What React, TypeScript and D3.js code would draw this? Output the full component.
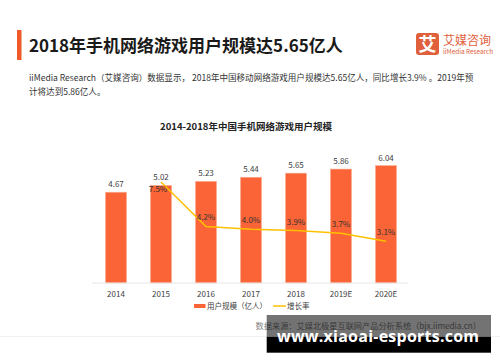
import React from "react";
import * as d3 from "d3";

const years = ["2014", "2015", "2016", "2017", "2018", "2019E", "2020E"];
const users = [4.67, 5.02, 5.23, 5.44, 5.65, 5.86, 6.04];
const growth: (number | null)[] = [null, 7.5, 4.2, 4.0, 3.9, 3.7, 3.1];
const seriesNames = ["用户规模（亿人）", "增长率"];

const W = 500;
const H = 362;
const FONT = "'Noto Sans CJK SC', 'Open Sans', sans-serif";
const BAR = "#fa6436";
const LINE = "#ffc000";
const LOGO = "#e0603c";

const App = () => {
  // plot area
  const x = d3.scaleBand<string>().domain(years).range([93.5, 408.5]).paddingInner(0.53).paddingOuter(0.265);
  const y = d3.scaleLinear().domain([0, 7.2]).range([283, 143]);
  const y2 = d3.scaleLinear().domain([0, 10.4]).range([283, 143]);

  const pts = years
    .map((d, i) => ({ year: d, v: growth[i] }))
    .filter((d) => d.v !== null) as { year: string; v: number }[];
  const cx = (d: string) => (x(d) as number) + x.bandwidth() / 2;
  const line = d3
    .line<{ year: string; v: number }>()
    .x((d) => cx(d.year))
    .y((d) => y2(d.v));

  return (
    <svg
      width={W}
      height={H}
      style={{ position: "absolute", left: 0, top: 0, background: "#fff" }}
      fontFamily={FONT}
    >
      {/* header */}
      <rect x={17} y={30} width={4.5} height={30} fill="#f05a2a" />
      <text x={29} y={52} fontSize={17} fontWeight="bold" fill="#1a1a1a">
        2018年手机网络游戏用户规模达5.65亿人
      </text>

      {/* logo */}
      <rect x={416} y={33} width={23} height={22} rx={3} fill={LOGO} />
      <text x={427.5} y={50.5} fontSize={18} fontWeight="bold" fill="#fff" textAnchor="middle">
        艾
      </text>
      <text x={443} y={45} fontSize={12} fill={LOGO}>
        艾媒咨询
      </text>
      <text x={443} y={54} fontSize={6.4} fill={LOGO}>
        iiMedia Research
      </text>

      <text x={29} y={81} fontSize={8.55} fill="#333">
        iiMedia Research（艾媒咨询）数据显示， 2018年中国移动网络游戏用户规模达5.65亿人，同比增长3.9% 。2019年预
      </text>
      <text x={29} y={95} fontSize={8.55} fill="#333">
        计将达到5.86亿人。
      </text>

      <text x={246} y={130} fontSize={9.5} fontWeight="bold" fill="#222" textAnchor="middle">
        2014-2018年中国手机网络游戏用户规模
      </text>

      {/* bars */}
      {years.map((d, i) => (
        <g key={d}>
          <rect
            x={x(d)}
            y={y(users[i])}
            width={x.bandwidth()}
            height={y(0) - y(users[i])}
            fill={BAR}
            stroke="#fcb59c"
            strokeWidth={0.6}
          />
          <text x={cx(d)} y={y(users[i]) - 5} fontSize={8} fill="#404040" textAnchor="middle">
            {users[i].toFixed(2)}
          </text>
          <text x={cx(d)} y={297} fontSize={8} fill="#404040" textAnchor="middle">
            {d}
          </text>
        </g>
      ))}
      <line x1={92} x2={408} y1={283} y2={283} stroke="#e6e6e6" strokeWidth={1} />

      {/* growth line */}
      <path d={line(pts) as string} fill="none" stroke={LINE} strokeWidth={1.5} />
      {pts.map((d, i) => (
        <text
          key={d.year}
          x={cx(d.year) + (i === 0 ? -3 : 0)}
          y={y2(d.v) + (i === 0 ? 10 : -6)}
          fontSize={8}
          fill="#333"
          textAnchor="middle"
        >
          {d.v.toFixed(1)}%
        </text>
      ))}

      {/* legend */}
      <rect x={194} y={304} width={11.5} height={4} fill={BAR} />
      <text x={207} y={308.5} fontSize={7.5} fill="#404040">
        {seriesNames[0]}
      </text>
      <line x1={273} x2={286} y1={306} y2={306} stroke={LINE} strokeWidth={1.5} />
      <text x={287} y={308.5} fontSize={7.5} fill="#404040">
        {seriesNames[1]}
      </text>

      {/* source */}
      <text x={481} y={328.5} fontSize={8.2} fill="#7f7f7f" textAnchor="end">
        数据来源：艾媒北极星互联网产品分析系统（bjx.iimedia.cn）
      </text>
      <line x1={0} x2={W} y1={336.5} y2={336.5} stroke="#f2f2f2" strokeWidth={1} />

      {/* watermark */}
      <rect x={266.7} y={315} width={224.3} height={21.7} fill="#000" opacity={0.55} />
      <rect x={266.7} y={336.7} width={224.3} height={16} fill="#000" />
      <text x={277} y={342} fontSize={16} fontWeight="bold" fill="#fff" fontFamily="'Open Sans', sans-serif" textLength={202}>
        www.xiaoai-esports.com
      </text>
    </svg>
  );
};

export default App;
